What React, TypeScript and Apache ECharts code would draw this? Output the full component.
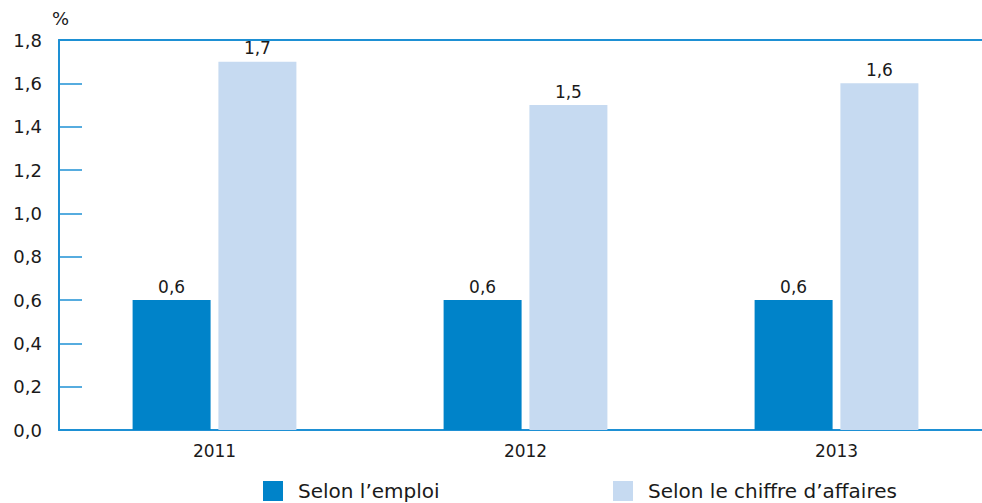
import React, { useEffect, useRef } from "react";
import * as echarts from "echarts";

const categories = ["2011", "2012", "2013"];
const emploi = [0.6, 0.6, 0.6];
const chiffre = [1.7, 1.5, 1.6];
const seriesNames = ["Selon l\u2019emploi", "Selon le chiffre d\u2019affaires"];

const FONT = "DejaVu Sans";
const TEXT = "#1a1a1a";
const fmt = (v: number) => v.toFixed(1).replace(".", ",");

export default function App() {
  const ref = useRef<HTMLDivElement>(null);
  useEffect(() => {
    if (!ref.current) return;
    const chart = echarts.init(ref.current, null, { renderer: "svg" });
    const axisColor = "#1E90D4";
    const legendBase = {
      top: 481,
      itemWidth: 20,
      itemHeight: 20,
      itemGap: 0,
      padding: 0,
      icon: "rect",
      textStyle: { fontFamily: FONT, fontSize: 20, color: TEXT, padding: [0, 0, 0, 10] },
    };
    chart.setOption({
      animation: false,
      textStyle: { fontFamily: FONT },
      grid: { left: 59, top: 40, right: 0, bottom: 73, containLabel: false, outerBoundsMode: "none" },
      legend: [
        { ...legendBase, data: [seriesNames[0]], left: 263 },
        { ...legendBase, data: [seriesNames[1]], left: 613 },
      ],
      graphic: [
        {
          type: "text",
          left: 52,
          top: 9,
          style: { text: "%", fontFamily: FONT, fontSize: 18, fill: TEXT },
        },
      ],
      xAxis: [
        {
          type: "category",
          data: categories,
          axisLine: { lineStyle: { color: axisColor, width: 2 } },
          axisTick: { inside: true, length: 10, lineStyle: { color: axisColor, width: 1.5 } },
          axisLabel: { fontFamily: FONT, fontSize: 17, color: TEXT, margin: 12 },
        },
        {
          type: "category",
          position: "top",
          data: categories,
          axisLine: { show: true, lineStyle: { color: axisColor, width: 2 } },
          axisTick: { show: false },
          axisLabel: { show: false },
        },
      ],
      yAxis: {
        type: "value",
        min: 0,
        max: 1.8,
        interval: 0.2,
        axisLine: { show: true, lineStyle: { color: axisColor, width: 2 } },
        axisTick: { show: true, inside: true, length: 23, lineStyle: { color: axisColor, width: 1.5 } },
        splitLine: { show: false },
        axisLabel: {
          fontFamily: FONT,
          fontSize: 18,
          color: TEXT,
          margin: 17,
          formatter: (v: number) => fmt(v),
        },
      },
      series: [
        {
          name: seriesNames[0],
          type: "bar",
          xAxisIndex: 0,
          data: emploi,
          barWidth: 78,
          barGap: "10%",
          itemStyle: { color: "#0083C9" },
          label: {
            show: true,
            position: "top",
            distance: 5,
            fontFamily: FONT,
            fontSize: 17,
            color: TEXT,
            formatter: (p: any) => fmt(p.value),
          },
        },
        {
          name: seriesNames[1],
          type: "bar",
          xAxisIndex: 0,
          data: chiffre,
          barWidth: 78,
          barGap: "10%",
          itemStyle: { color: "#C6DAF1" },
          label: {
            show: true,
            position: "top",
            distance: 5,
            fontFamily: FONT,
            fontSize: 17,
            color: TEXT,
            formatter: (p: any) => fmt(p.value),
          },
        },
      ],
    });
    return () => chart.dispose();
  }, []);
  return (
    <div style={{ width: 982, height: 503, position: "absolute", left: 0, top: 0, overflow: "hidden" }}>
      <div ref={ref} style={{ width: 992, height: 503 }} />
    </div>
  );
}
